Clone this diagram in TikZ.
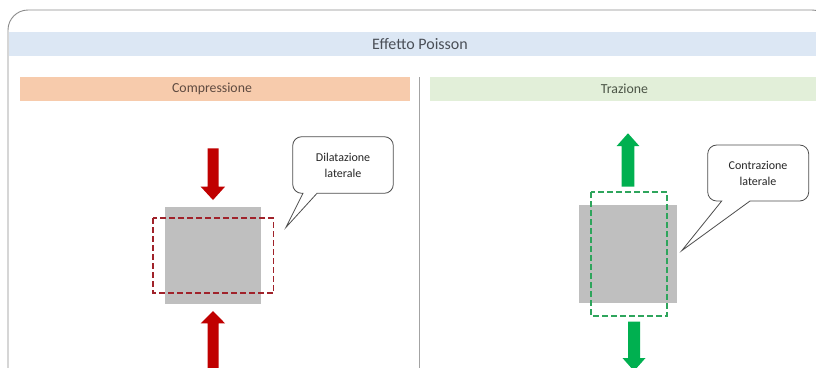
\documentclass[tikz,border=0pt]{standalone}
\usepackage{fontspec}
\setmainfont{Carlito}
\definecolor{framegray}{HTML}{8C8C8C}
\definecolor{titleband}{HTML}{DCE7F4}
\definecolor{titletext}{HTML}{4A4F57}
\definecolor{compband}{HTML}{F7CBAC}
\definecolor{comptext}{HTML}{5E4A40}
\definecolor{trazband}{HTML}{E2EFD9}
\definecolor{traztext}{HTML}{4B5446}
\definecolor{blockgray}{HTML}{BFBFBF}
\definecolor{pushred}{HTML}{C00000}
\definecolor{dashred}{HTML}{A0222A}
\definecolor{pullgreen}{HTML}{00B050}
\definecolor{dashgreen}{HTML}{2EA55C}
\definecolor{calloutline}{HTML}{4D4D4D}
\tikzset{
  band/.style={minimum height=24pt, inner sep=0pt, anchor=north west},
  block/.style={fill=blockgray, draw=none},
  deform/.style={line width=1.8pt, dash pattern=on 6pt off 3pt, fill=none},
  bubble/.style={draw=calloutline, line width=0.8pt, fill=white},
  bubbletext/.style={align=center, font=\fontsize{12}{16}\selectfont, text=black!85},
  headtext/.style={font=\fontsize{13.8}{16}\selectfont}
}
\begin{document}
\begin{tikzpicture}[x=1pt, y=-1pt]
\useasboundingbox (0,0) rectangle (816,367);
\clip (0,0) rectangle (816,367);
\fill[white] (0,0) rectangle (816,367);

% outer frame
\draw[framegray, line width=0.9pt, rounded corners=20pt] (8,10) rectangle (832,400);

% header bands
\node[band, fill=titleband, minimum width=820pt] (title) at (8.5,32) {};
\node[text=titletext, font=\fontsize{16}{18}\selectfont] (titlelabel) at (420,44) {Effetto Poisson};
\node[band, fill=compband, minimum width=390pt] (comp) at (20,77) {};
\node[headtext, text=comptext] (complabel) at (212,89) {Compressione};
\node[band, fill=trazband, minimum width=400pt] (traz) at (430,77) {};
\node[headtext, text=traztext] (trazlabel) at (624.5,89) {Trazione};

% divider between the two cases
\coordinate (divtop) at (419,77);
\coordinate (divbot) at (419,370);
\draw[framegray!80, line width=0.8pt] (divtop) -- (divbot);

% ---- compression ----
\node[block, minimum width=96pt, minimum height=97pt, inner sep=0pt] (cblock) at (213,255.5) {};
% load arrows (pointing towards the block)
\fill[pushred] (207.7,148.3) -- (218.7,148.3) -- (218.7,186.7) -- (225,186.7) -- (213,200) -- (200.7,186.7) -- (207.7,186.7) -- cycle;
\fill[pushred] (207.7,370) -- (218.7,370) -- (218.7,323.3) -- (225,323.3) -- (213,311) -- (200.7,323.3) -- (207.7,323.3) -- cycle;
% deformed shape
\draw[deform, dashred] (153,218.3) rectangle (273.5,293.3);
% callout
\draw[bubble] (286,227.3) -- (317,193.3) [rounded corners=9pt] -- (393.3,193.3) -- (393.3,136.7) -- (292.7,136.7) -- (292.7,193.3) [sharp corners] -- (303,193.3) -- cycle;
\node[bubbletext] (clabel) at (343,165.5) {Dilatazione\\laterale};

% ---- tension ----
\node[block, minimum width=98pt, minimum height=98pt, inner sep=0pt] (tblock) at (628.2,254.2) {};
% load arrows (pointing away from the block)
\fill[pullgreen] (621.7,186.7) -- (634.3,186.7) -- (634.3,146) -- (639.3,146) -- (628,133.3) -- (616.7,146) -- (621.7,146) -- cycle;
\fill[pullgreen] (628,321.7) -- (640,321.7) -- (640,358) -- (645.5,358) -- (634,371) -- (622.5,358) -- (628,358) -- cycle;
% deformed shape
\draw[deform, dashgreen] (590.7,192.3) rectangle (667.3,315.7);
% callout
\draw[bubble] (681.7,250.7) -- (750,201) [rounded corners=9pt] -- (808.7,201) -- (808.7,145) -- (707.7,145) -- (707.7,201) [sharp corners] -- (721.7,201) -- cycle;
\node[bubbletext] (tlabel) at (758,173.5) {Contrazione\\laterale};
\end{tikzpicture}
\end{document}
